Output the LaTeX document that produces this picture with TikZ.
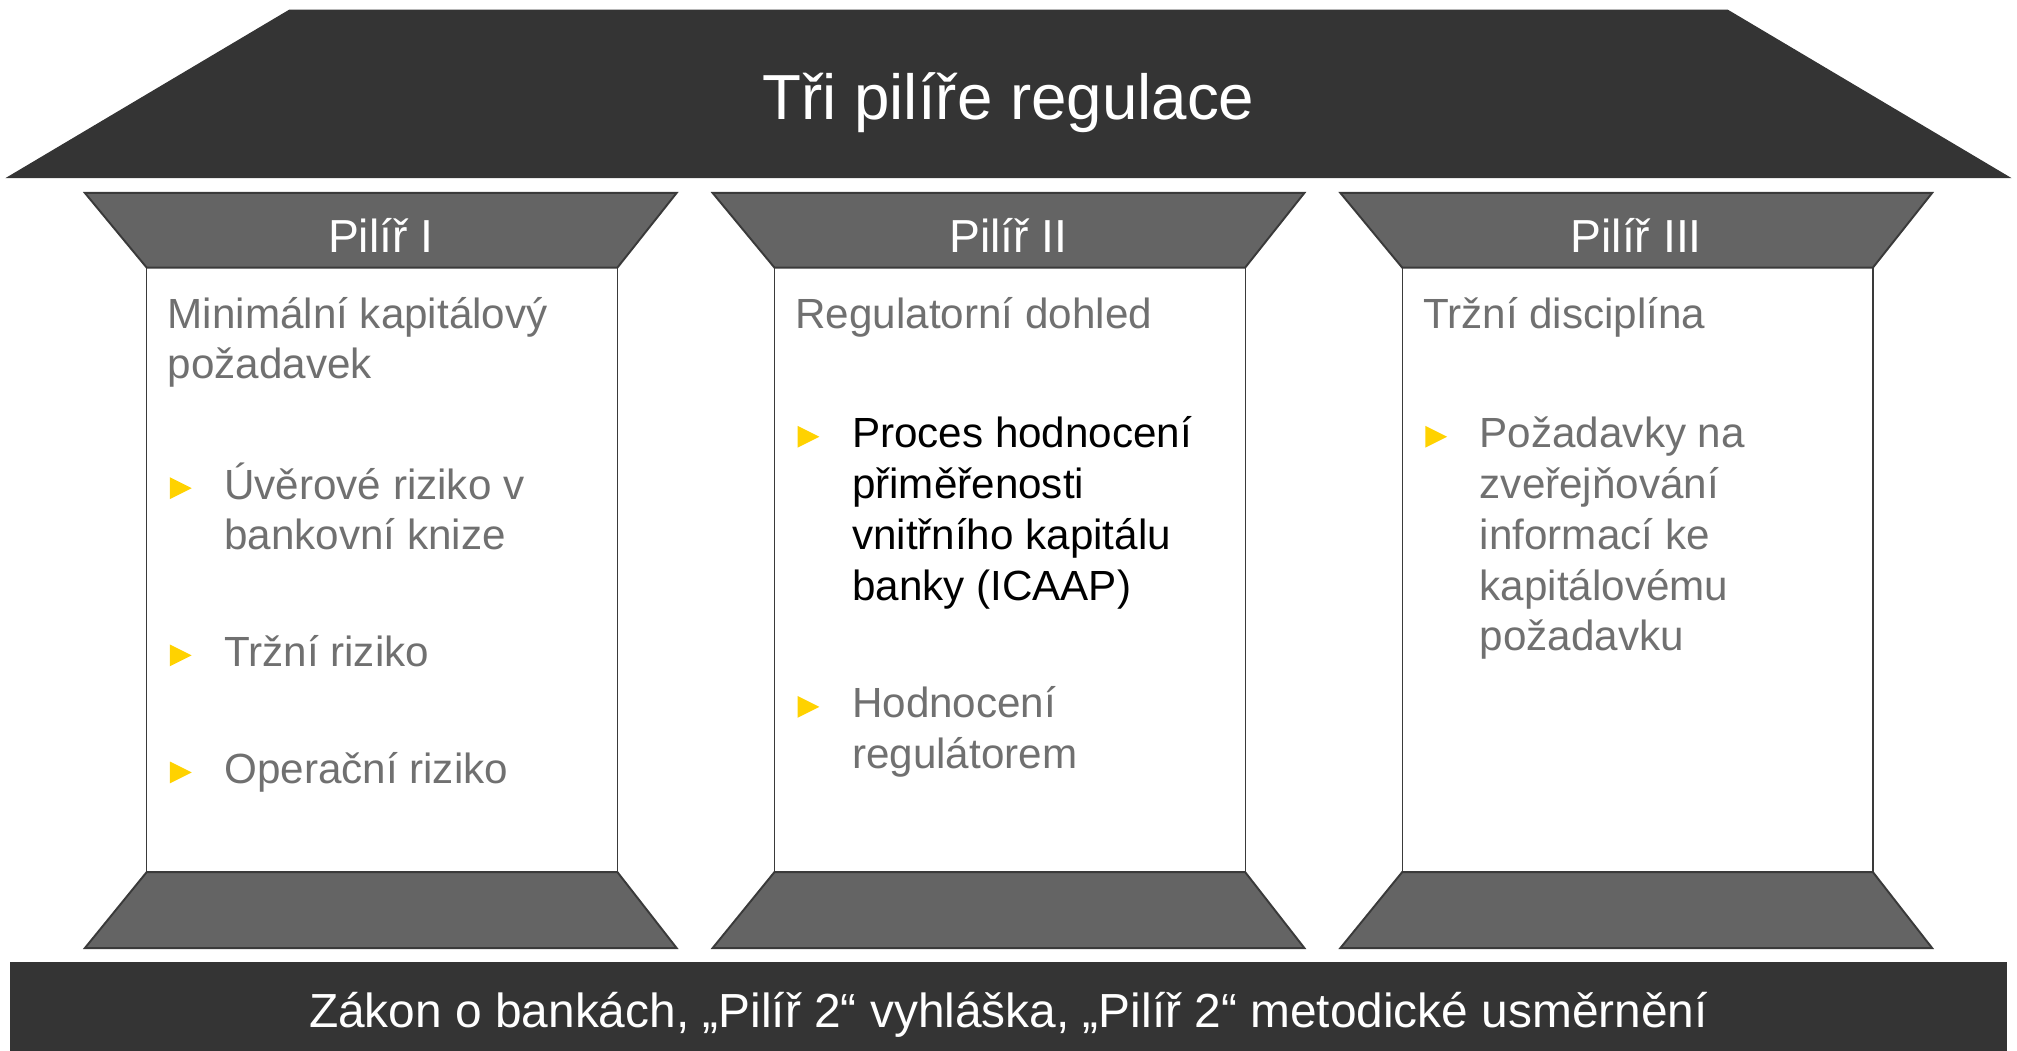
\documentclass[tikz,border=0pt]{standalone}
\usepackage{fontspec}
\setmainfont{Liberation Sans}
\definecolor{roofc}{HTML}{343434}
\definecolor{capc}{HTML}{646464}
\definecolor{edgec}{HTML}{3A3A3A}
\definecolor{txtgray}{HTML}{707070}
\definecolor{bulc}{HTML}{FFD200}
\newcommand\stacklines[1]{\parbox[t]{200pt}{\raggedright #1}}
\newcommand\bul[2]{\fill[bulletshape] (#1,#2) -- (#1,#2-17) -- (#1+17,#2-8.5) -- cycle;}
\begin{document}
\begin{tikzpicture}[x=0.5pt,y=-0.5pt,
  roofshape/.style={fill=roofc, draw=roofc, line width=0.5pt},
  capshape/.style={fill=capc, draw=edgec, line width=0.75pt},
  shaft/.style={fill=white, draw=edgec, line width=0.5pt},
  bulletshape/.style={fill=bulc},
  titletext/.style={text=white, font=\fontsize{24.75}{30}\selectfont, inner sep=0pt, anchor=base},
  pillarlabel/.style={text=white, font=\fontsize{18}{22}\selectfont, inner sep=0pt, anchor=base},
  headtext/.style={text=txtgray, font=\fontsize{16.4}{19.75}\selectfont, inner sep=0pt, anchor=base west},
  itemtext/.style={headtext},
  itemdark/.style={headtext, text=black},
  footertext/.style={text=white, font=\fontsize{18.6}{22}\selectfont, inner sep=0pt, anchor=base}]
\useasboundingbox (0,0) rectangle (1568,817);
% roof
\draw[roofshape] (225,8) -- (1343,8) -- (1562,138) -- (6,138) -- cycle;
\node[titletext] (title) at (784,93) {Tři pilíře regulace};
% pillars
\foreach \dx/\n/\lab in {0/1/I, 488/2/II, 976/3/III} {
  \draw[shaft] (114+\dx,208) rectangle (480+\dx,678);
  \draw[capshape] (66+\dx,150) -- (526+\dx,150) -- (480+\dx,208) -- (114+\dx,208) -- cycle;
  \draw[capshape] (114+\dx,678) -- (480+\dx,678) -- (526+\dx,737) -- (66+\dx,737) -- cycle;
  \node[pillarlabel] (p\n) at (296+\dx,196) {Pilíř \lab};
}
% pillar I
\node[headtext] (h1) at (130,255) {\stacklines{Minimální kapitálový\\požadavek}};
\bul{132}{388}
\node[itemtext] (i11) at (174,388) {\stacklines{Úvěrové riziko v\\bankovní knize}};
\bul{132}{518}
\node[itemtext] (i12) at (174,518) {Tržní riziko};
\bul{132}{609}
\node[itemtext] (i13) at (174,609) {Operační riziko};
% pillar II
\node[headtext] (h2) at (618,255) {Regulatorní dohled};
\bul{620}{348}
\node[itemdark] (i21) at (662,348) {\stacklines{Proces hodnocení\\přiměřenosti\\vnitřního kapitálu\\banky (ICAAP)}};
\bul{620}{558}
\node[itemtext] (i22) at (662,558) {\stacklines{Hodnocení\\regulátorem}};
% pillar III
\node[headtext] (h3) at (1106,255) {Tržní disciplína};
\bul{1108}{348}
\node[itemtext] (i31) at (1150,348) {\stacklines{Požadavky na\\zveřejňování\\informací ke\\kapitálovému\\požadavku}};
% foundation
\fill[roofc] (8,748) rectangle (1560,818);
\node[footertext] (law) at (784,799) {Zákon o bankách, „Pilíř 2“ vyhláška, „Pilíř 2“ metodické usměrnění};
\end{tikzpicture}
\end{document}
